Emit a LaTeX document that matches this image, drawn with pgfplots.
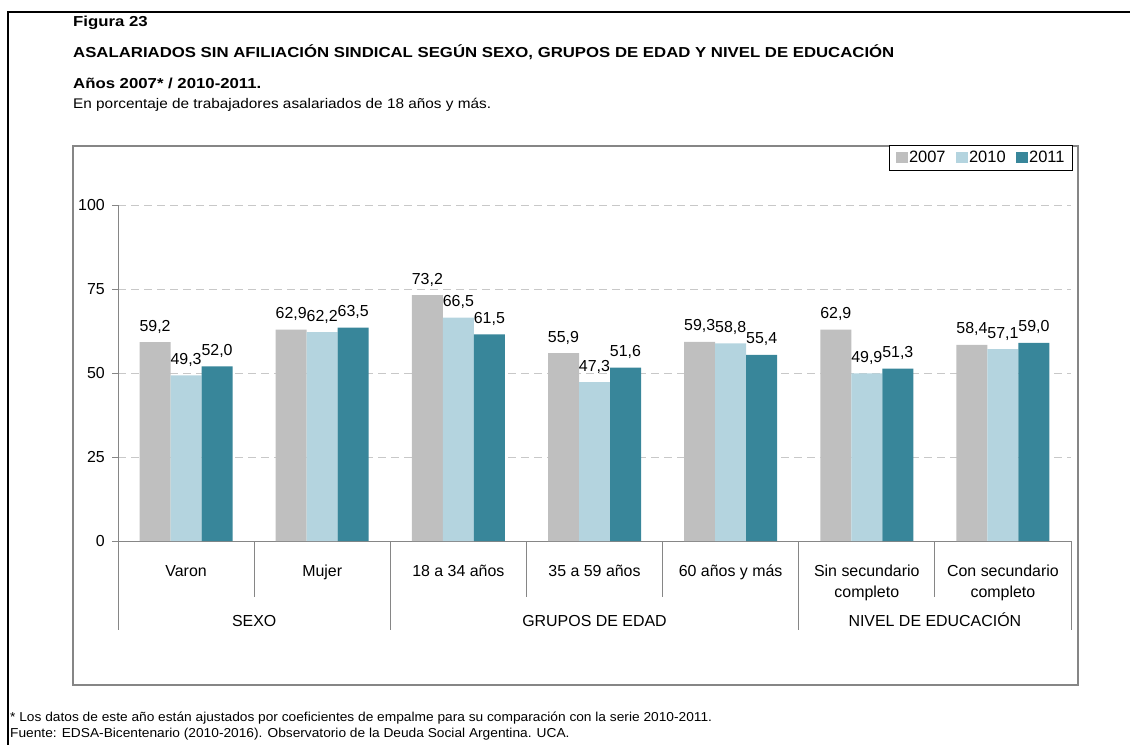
\documentclass[border=0pt]{standalone}
\usepackage{fontspec}
\setmainfont{Liberation Sans}
\newfontfamily\hdrfont[FakeStretch=1.16]{Liberation Sans}
\newfontfamily\subfont[FakeStretch=1.10]{Liberation Sans}
\newfontfamily\footfont[FakeStretch=1.06]{Liberation Sans}
\usepackage{pgfplots}
\pgfplotsset{compat=1.18}
\definecolor{c07}{HTML}{BFBFBF}
\definecolor{c10}{HTML}{B4D4DF}
\definecolor{c11}{HTML}{38869A}
\definecolor{axgray}{HTML}{868686}
\definecolor{gridgray}{HTML}{C8C8C8}
\newcommand{\lblfont}{\fontsize{16}{21}\selectfont}
\begin{document}
\begin{tikzpicture}[x=1bp,y=1bp]
\useasboundingbox (0,0) rectangle (1130,-745);
\draw[line width=2bp] (8,-745) -- (8,-12) -- (1131,-12);
\node[anchor=base west, inner sep=0pt, font=\hdrfont\bfseries\fontsize{14.5}{17}\selectfont] at (73,-27) {Figura 23};
\node[anchor=base west, inner sep=0pt, font=\hdrfont\bfseries\fontsize{14.5}{17}\selectfont] at (73,-58) {ASALARIADOS SIN AFILIACIÓN SINDICAL SEGÚN SEXO, GRUPOS DE EDAD Y NIVEL DE EDUCACIÓN};
\node[anchor=base west, inner sep=0pt, font=\hdrfont\bfseries\fontsize{14.5}{17}\selectfont] at (73,-89) {Años 2007* / 2010-2011.};
\node[anchor=base west, inner sep=0pt, font=\subfont\fontsize{14}{16}\selectfont] at (73,-109) {En porcentaje de trabajadores asalariados de 18 años y más.};
\draw[axgray, line width=1.3bp] (73,-146) rectangle (1078,-685);
\node[anchor=base west, inner sep=0pt, font=\footfont\fontsize{13}{15}\selectfont] at (10,-721) {* Los datos de este año están ajustados por coeficientes de empalme para su comparación con la serie 2010-2011.};
\node[anchor=base west, inner sep=0pt, font=\footfont\fontsize{13}{15}\selectfont] at (10,-737) {Fuente: EDSA-Bicentenario (2010-2016). Observatorio de la Deuda Social Argentina. UCA.};
\begin{axis}[
  at={(118bp,-541bp)}, anchor=south west,
  width=953bp, height=336bp, scale only axis,
  xmin=-0.5, xmax=6.5, ymin=0, ymax=100,
  axis lines*=left,
  axis line style={axgray, line width=1bp},
  clip=false,
  ytick={0,25,50,75,100},
  ytick style={axgray, line width=1bp},
  major tick length=6bp, tick align=outside,
  ymajorgrids,
  y grid style={gridgray, dash pattern=on 8bp off 5bp, line width=1bp},
  yticklabel style={font=\lblfont, inner sep=0pt, xshift=-7bp},
  /pgf/number format/assume math mode=true,
  xtick={0,1,2,3,4,5,6},
  xtick style={draw=none},
  xticklabels={{\strut Varon},{\strut Mujer},{\strut 18 a 34 años},{\strut 35 a 59 años},{\strut 60 años y más},{\strut Sin secundario\\completo},{\strut Con secundario\\completo}},
  xticklabel style={font=\lblfont, align=center, anchor=north, inner sep=0pt, yshift=-15bp},
  ybar=0pt, bar width=31bp,
  nodes near coords={\pgfmathprintnumber[fixed,fixed zerofill,precision=1,use comma,assume math mode=true]{\pgfplotspointmeta}},
  nodes near coords style={font=\lblfont, anchor=base, inner sep=0pt, yshift=11bp, text=black},
  legend columns=3,
  legend style={at={(1.002,1.1786)}, anchor=north east, draw=black, line width=0.8bp, fill=white,
    font=\fontsize{16.5}{20}\selectfont, inner xsep=6.5bp, inner ysep=4.5bp,
    /tikz/every even column/.append style={column sep=9bp},
    /tikz/every odd column/.append style={column sep=0bp},
    nodes={inner sep=1.5bp}},
  legend image code/.code={\fill[#1] (0bp,-5.5bp) rectangle (11.5bp,6bp);},
]
\addplot[fill=c07, draw=none] coordinates {(0,59.2) (1,62.9) (2,73.2) (3,55.9) (4,59.3) (5,62.9) (6,58.4)};
\addplot[fill=c10, draw=none] coordinates {(0,49.3) (1,62.2) (2,66.5) (3,47.3) (4,58.8) (5,49.9) (6,57.1)};
\addplot[fill=c11, draw=none] coordinates {(0,52.0) (1,63.5) (2,61.5) (3,51.6) (4,55.4) (5,51.3) (6,59.0)};
\legend{2007,2010,2011}
\draw[axgray, line width=1bp] (axis cs:-0.5,0) -- ++(0bp,-89bp);
\draw[axgray, line width=1bp] (axis cs:0.5,0) -- ++(0bp,-56bp);
\draw[axgray, line width=1bp] (axis cs:2.5,0) -- ++(0bp,-56bp);
\draw[axgray, line width=1bp] (axis cs:3.5,0) -- ++(0bp,-56bp);
\draw[axgray, line width=1bp] (axis cs:5.5,0) -- ++(0bp,-56bp);
\draw[axgray, line width=1bp] (axis cs:1.5,0) -- ++(0bp,-89bp);
\draw[axgray, line width=1bp] (axis cs:4.5,0) -- ++(0bp,-89bp);
\draw[axgray, line width=1bp] (axis cs:6.5,0) -- ++(0bp,-89bp);
\node[anchor=base, font=\lblfont, inner sep=0pt] at ([yshift=-85bp]axis cs:0.5,0) {SEXO};
\node[anchor=base, font=\lblfont, inner sep=0pt] at ([yshift=-85bp]axis cs:3,0) {GRUPOS DE EDAD};
\node[anchor=base, font=\lblfont, inner sep=0pt] at ([yshift=-85bp]axis cs:5.5,0) {NIVEL DE EDUCACIÓN};
\end{axis}
\end{tikzpicture}
\end{document}
